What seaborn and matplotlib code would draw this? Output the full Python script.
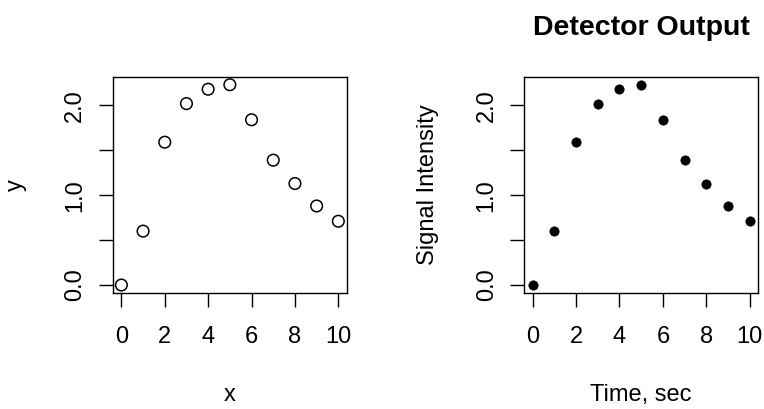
import matplotlib
matplotlib.use("Agg")
import matplotlib.pyplot as plt
import seaborn as sns
import pandas as pd

# detector readings, one per second
time_sec = [0, 1, 2, 3, 4, 5, 6, 7, 8, 9, 10]
signal = [0.00, 0.60, 1.59, 2.02, 2.18, 2.23, 1.84, 1.39, 1.13, 0.88, 0.71]
x_ticks = [0, 2, 4, 6, 8, 10]
y_ticks = [0.0, 0.5, 1.0, 1.5, 2.0]
y_labels = ["0.0", "", "1.0", "", "2.0"]

df = pd.DataFrame({"x": time_sec, "y": signal})

sns.set_style("white")
plt.rcParams["font.family"] = ["Liberation Sans", "DejaVu Sans"]
plt.rcParams["text.color"] = "black"
plt.rcParams["axes.labelcolor"] = "black"

fig = plt.figure(figsize=(7.64, 4.09), dpi=100)
ax1 = fig.add_axes([0.1475, 0.2836, 0.3067, 0.529])
ax2 = fig.add_axes([0.6859, 0.2836, 0.3067, 0.529])

sns.scatterplot(data=df, x="x", y="y", ax=ax1, s=70, facecolor="none",
                edgecolor="black", linewidth=1.1)
sns.scatterplot(data=df, x="x", y="y", ax=ax2, s=45, color="black",
                edgecolor="black", linewidth=0.5)

for ax in (ax1, ax2):
    ax.set_xlim(-0.4, 10.4)
    ax.set_ylim(-0.089, 2.32)
    ax.set_xticks(x_ticks)
    ax.set_yticks(y_ticks)
    ax.set_yticklabels(y_labels, rotation=90, va="center")
    ax.tick_params(axis="both", direction="out", length=10, width=1,
                   color="black", labelcolor="black", labelsize=17,
                   left=True, bottom=True)
    ax.tick_params(axis="x", pad=14)
    ax.tick_params(axis="y", pad=9)
    for sp in ax.spines.values():
        sp.set_color("black")
        sp.set_linewidth(1)
    ax.xaxis.set_label_coords(0.5, -0.42)
    ax.yaxis.set_label_coords(-0.365, 0.5)

ax1.set_xlabel("x", fontsize=17)
ax1.set_ylabel("y", fontsize=17)
ax2.set_xlabel("Time, sec", fontsize=17)
ax2.set_ylabel("Signal Intensity", fontsize=17)
ax2.set_title("Detector Output", fontsize=20.5, fontweight="bold", pad=30)

fig.savefig("out.png", dpi=100)
